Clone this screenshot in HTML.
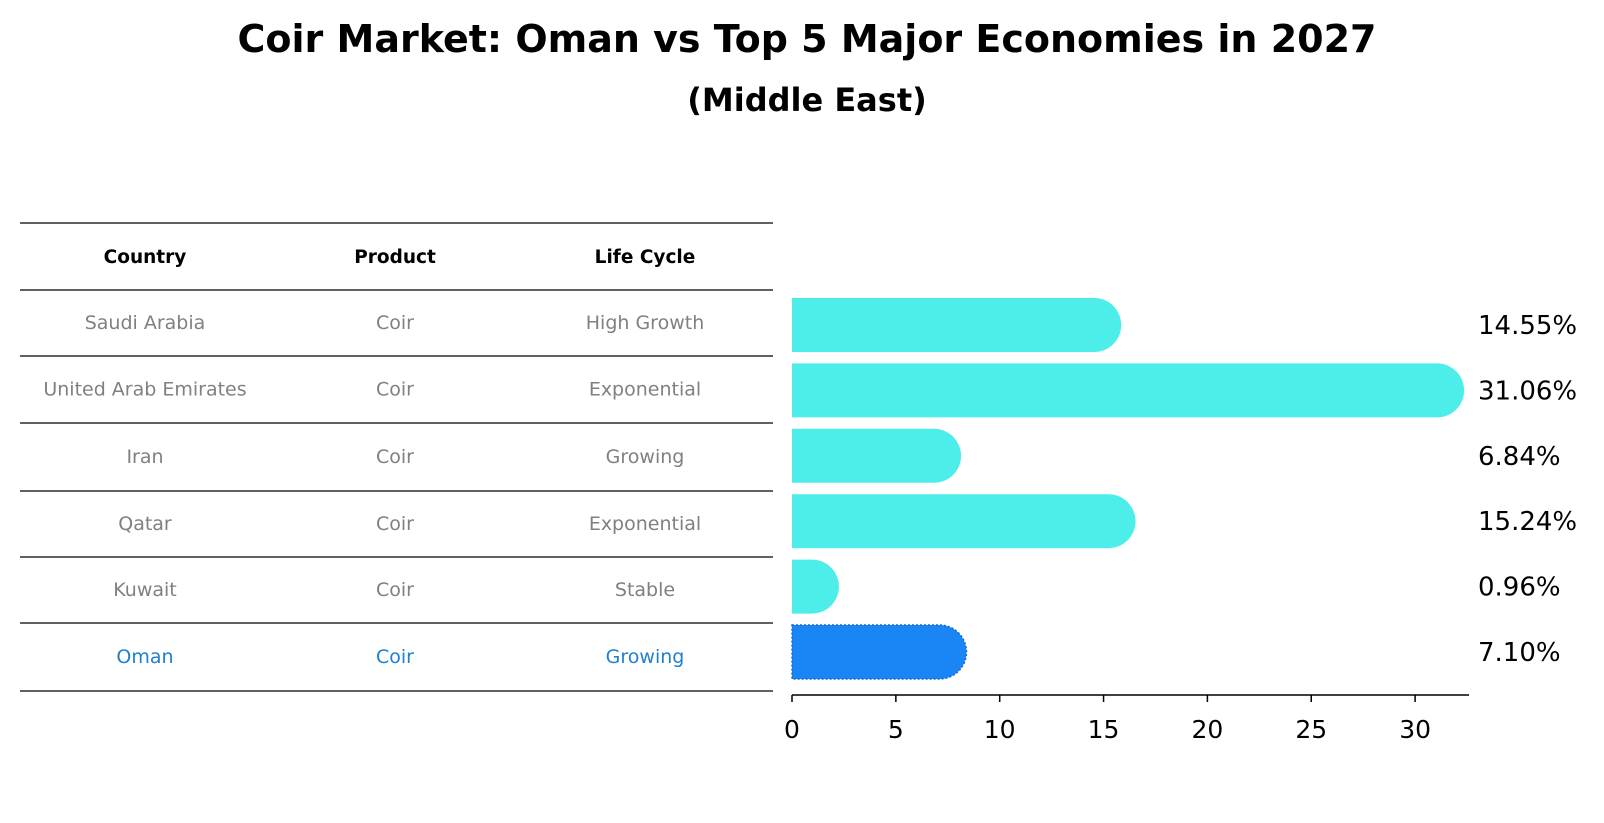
<!DOCTYPE html>
<html><head><meta charset="utf-8"><style>
body{margin:0;background:#fff;}
svg{display:block;font-family:"DejaVu Sans","Liberation Sans",sans-serif;}
</style></head><body>
<svg id="c" width="1604" height="823" viewBox="0 0 1604 823">
<text x="807" y="52" text-anchor="middle" font-size="38" font-weight="bold">Coir Market: Oman vs Top 5 Major Economies in 2027</text>
<text x="807" y="111" text-anchor="middle" font-size="32" font-weight="bold">(Middle East)</text>
<g id="tbl"></g>
<g id="bars"></g>
<g id="axis"></g>
</svg>
<script>
const countries=["Saudi Arabia","United Arab Emirates","Iran","Qatar","Kuwait","Oman"];
const products=["Coir","Coir","Coir","Coir","Coir","Coir"];
const lifeCycles=["High Growth","Exponential","Growing","Exponential","Stable","Growing"];
const values=[14.55,31.06,6.84,15.24,0.96,7.10];
const ticks=[0,5,10,15,20,25,30];
const NS="http://www.w3.org/2000/svg";
function mk(tag,attrs,parent){const e=document.createElementNS(NS,tag);for(const k in attrs)e.setAttribute(k,attrs[k]);parent.appendChild(e);return e;}
const x0=792,pxPer=20.77;
const xs=v=>x0+v*pxPer;
const rowY=i=>325+i*65.4;
const tbl=document.getElementById('tbl');
const lineYs=[223,290,356,423,491,557,623,691];
lineYs.forEach(y=>{const l=mk('line',{x1:20,x2:773,y1:y,y2:y,stroke:'#000','stroke-width':1.2},tbl);

});
const colX=[145,395,645];
["Country","Product","Life Cycle"].forEach((h,j)=>{const t=mk('text',{x:colX[j],y:263,'text-anchor':'middle','font-size':18.5,'font-weight':'bold'},tbl);t.textContent=h;

});
countries.forEach((c,i)=>{
  const y=(lineYs[i+1]+lineYs[i+2])/2+6;
  const col=i===countries.length-1?'#1f7fd0':'#808080';
  [c,products[i],lifeCycles[i]].forEach((s,j)=>{const t=mk('text',{x:colX[j],y:y,'text-anchor':'middle','font-size':19,fill:col},tbl);t.textContent=s;
  
  });
});
const bars=document.getElementById('bars');
const r=27;
values.forEach((v,i)=>{
  const cy=rowY(i),xe=xs(v);
  const isOman=i===values.length-1;
  const d=`M${x0},${cy-r} L${xe},${cy-r} A${r},${r} 0 0 1 ${xe},${cy+r} L${x0},${cy+r} Z`;
  const p=mk('path',{d:d,fill:isOman?'#1a86f5':'#4deeea'},bars);
  if(isOman){p.setAttribute('stroke','#1568d0');p.setAttribute('stroke-dasharray','2,2');p.setAttribute('stroke-width','1.5');}
  
  
  const t=mk('text',{x:1478,y:cy+9,'font-size':26},bars);t.textContent=v.toFixed(2)+'%';
  
  
});
const ax=document.getElementById('axis');
const al=mk('line',{x1:x0,x2:1469,y1:695,y2:695,stroke:'#000','stroke-width':1.5},ax);


ticks.forEach(tv=>{
  const x=xs(tv);
  const tk=mk('line',{x1:x,x2:x,y1:695,y2:702,stroke:'#000','stroke-width':1.5},ax);
  
  
  const t=mk('text',{x:x,y:738,'text-anchor':'middle','font-size':25},ax);t.textContent=tv;
  
  
});
</script>
</body></html>
